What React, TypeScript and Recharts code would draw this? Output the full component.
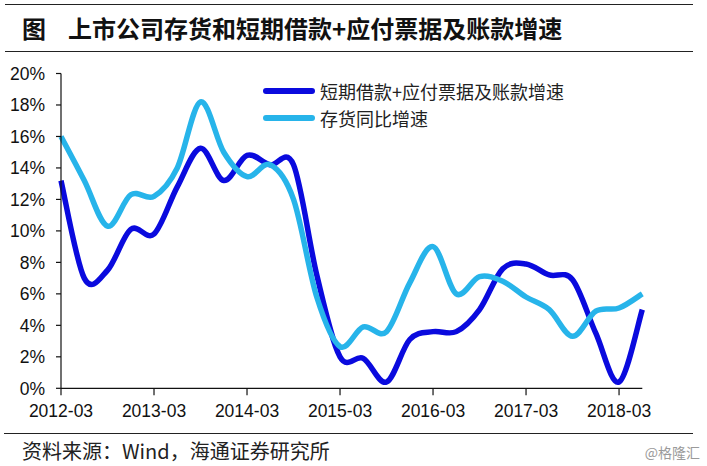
import { LineChart, Line, XAxis, YAxis } from "recharts";

// quarterly, 2012-03 .. 2018-06
const QUARTERS = [
  "2012-03", "2012-06", "2012-09", "2012-12",
  "2013-03", "2013-06", "2013-09", "2013-12",
  "2014-03", "2014-06", "2014-09", "2014-12",
  "2015-03", "2015-06", "2015-09", "2015-12",
  "2016-03", "2016-06", "2016-09", "2016-12",
  "2017-03", "2017-06", "2017-09", "2017-12",
  "2018-03", "2018-06",
];

// 短期借款+应付票据及账款增速 (%)
const DEBT_GROWTH = [
  13.2, 7.0, 7.5, 10.1, 9.8, 12.8, 15.25, 13.2, 14.8, 14.2, 14.2, 7.2, 2.0,
  1.9, 0.4, 3.1, 3.6, 3.6, 5.0, 7.6, 7.9, 7.2, 6.9, 3.5, 0.4, 5.0,
];

// 存货同比增速 (%)
const INVENTORY_GROWTH = [
  16.0, 13.2, 10.3, 12.3, 12.2, 14.0, 18.2, 15.0, 13.45, 14.2, 12.0, 5.8, 2.65,
  3.9, 3.6, 6.7, 9.0, 6.0, 7.1, 6.8, 5.8, 5.0, 3.3, 4.9, 5.1, 6.0,
];

const X_TICKS = [0, 4, 8, 12, 16, 20, 24];
const Y_TICKS = [0, 2, 4, 6, 8, 10, 12, 14, 16, 18, 20];

const SERIES = [
  { key: "debt", name: "短期借款+应付票据及账款增速", color: "#0A0ADE" },
  { key: "inv", name: "存货同比增速", color: "#27B4EA" },
];

const DARK = "#111";
const CJK = "'Noto Sans CJK SC', sans-serif";
const LATIN = "'Liberation Sans', Arial, sans-serif";

// Excel-like smoothed line (Catmull-Rom through the points)
function smoothCurve(context: any) {
  let pts: [number, number][] = [];
  return {
    areaStart() {},
    areaEnd() {},
    lineStart() {
      pts = [];
    },
    point(x: number, y: number) {
      pts.push([+x, +y]);
    },
    lineEnd() {
      if (!pts.length) return;
      context.moveTo(pts[0][0], pts[0][1]);
      for (let i = 0; i < pts.length - 1; i++) {
        const p0 = pts[i - 1] || pts[i];
        const p1 = pts[i];
        const p2 = pts[i + 1];
        const p3 = pts[i + 2] || p2;
        context.bezierCurveTo(
          p1[0] + (p2[0] - p0[0]) / 6,
          p1[1] + (p2[1] - p0[1]) / 6,
          p2[0] - (p3[0] - p1[0]) / 6,
          p2[1] - (p3[1] - p1[1]) / 6,
          p2[0],
          p2[1]
        );
      }
    },
  };
}

export default function App() {
  const data = QUARTERS.map((q, i) => ({
    i,
    q,
    debt: DEBT_GROWTH[i],
    inv: INVENTORY_GROWTH[i],
  }));

  return (
    <div
      style={{
        position: "absolute",
        left: 0,
        top: 0,
        width: 707,
        height: 466,
        background: "#fff",
        overflow: "hidden",
      }}
    >
      <div style={{ position: "absolute", left: 5, top: 4, width: 688, borderTop: "1.5px solid #222" }} />
      <div
        style={{
          position: "absolute",
          left: 22,
          top: 12,
          fontFamily: CJK,
          fontWeight: 700,
          fontSize: 24,
          lineHeight: "32px",
          color: "#111",
          whiteSpace: "nowrap",
        }}
      >
        <span style={{ marginRight: 22 }}>图</span>
        <span>上市公司存货和短期借款+应付票据及账款增速</span>
      </div>
      <div style={{ position: "absolute", left: 5, top: 51, width: 688, borderTop: "1.5px solid #222" }} />

      <div style={{ position: "absolute", left: 0, top: 0 }}>
        <LineChart
          width={707}
          height={466}
          data={data}
          margin={{ top: 73.5, right: 64.7, bottom: 47.7, left: 0 }}
        >
          <XAxis
            dataKey="i"
            type="number"
            domain={[0, 25]}
            ticks={X_TICKS}
            tickFormatter={(v: number) => QUARTERS[v]}
            interval={0}
            height={30}
            axisLine={{ stroke: DARK, strokeWidth: 1.2 }}
            tickLine={{ stroke: DARK, strokeWidth: 1.2 }}
            tickSize={7}
            tickMargin={9}
            tick={{ fill: DARK, fontSize: 17.5, fontFamily: LATIN }}
          />
          <YAxis
            type="number"
            domain={[0, 20]}
            ticks={Y_TICKS}
            tickFormatter={(v: number) => `${v}%`}
            interval={0}
            width={61}
            axisLine={{ stroke: DARK, strokeWidth: 1.2 }}
            tickLine={{ stroke: DARK, strokeWidth: 1.2 }}
            tickSize={5}
            tickMargin={11}
            tick={{ fill: DARK, fontSize: 17.5, fontFamily: LATIN }}
          />
          {SERIES.map((s) => (
            <Line
              key={s.key}
              dataKey={s.key}
              name={s.name}
              type={smoothCurve as any}
              stroke={s.color}
              strokeWidth={5.5}
              dot={false}
              activeDot={false}
              isAnimationActive={false}
            />
          ))}
        </LineChart>
      </div>

      {/* legend */}
      <div
        style={{
          position: "absolute",
          left: 263,
          top: 78,
          fontFamily: CJK,
          fontSize: 18,
          color: "#222",
        }}
      >
        {SERIES.map((s) => (
          <div key={s.key} style={{ display: "flex", alignItems: "center", height: 26.5 }}>
            <span
              style={{
                display: "inline-block",
                width: 52,
                height: 6,
                borderRadius: 3,
                background: s.color,
                marginRight: 5,
              }}
            />
            <span style={{ whiteSpace: "nowrap" }}>{s.name}</span>
          </div>
        ))}
      </div>

      <div style={{ position: "absolute", left: 4, top: 433, width: 689, borderTop: "1.5px solid #222" }} />
      <div
        style={{
          position: "absolute",
          left: 22,
          top: 437,
          fontFamily: CJK,
          fontSize: 20,
          lineHeight: "28px",
          color: "#222",
          whiteSpace: "nowrap",
        }}
      >
        资料来源：Wind，海通证券研究所
      </div>
      <div
        style={{
          position: "absolute",
          right: 7,
          top: 442,
          fontFamily: CJK,
          fontSize: 14,
          lineHeight: "20px",
          color: "#9a9a9a",
        }}
      >
        @格隆汇
      </div>
    </div>
  );
}
